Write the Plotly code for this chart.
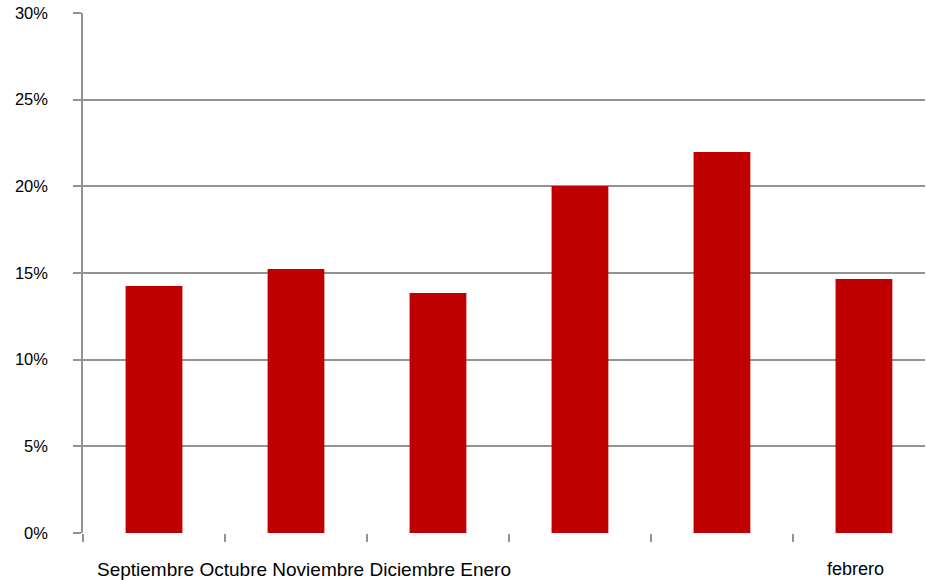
import plotly.graph_objects as go

months = ["Septiembre", "Octubre", "Noviembre", "Diciembre", "Enero", "febrero"]
values = [0.1425, 0.1523, 0.1385, 0.2002, 0.2198, 0.1465]
label_left = "Septiembre Octubre Noviembre Diciembre Enero"
label_right = "febrero"
y_ticks = [0, 0.05, 0.10, 0.15, 0.20, 0.25, 0.30]
y_ticktext = ["0%", "5%", "10%", "15%", "20%", "25%", "30%"]

W, H = 926, 580
L, R, T, B = 83, 1, 13, 47
pw = W - L - R
ph = H - T - B

fig = go.Figure()
fig.add_trace(go.Bar(x=months, y=values, width=0.4, marker=dict(color="#C00000", line=dict(width=0))))

gray = "#939393"
fig.update_layout(
    width=W, height=H,
    margin=dict(l=L, r=R, t=T, b=B),
    plot_bgcolor="white", paper_bgcolor="white",
    showlegend=False,
    font=dict(family="Liberation Sans, Arial, sans-serif", size=17, color="#000000"),
    xaxis=dict(
        type="category", range=[-0.5, 5.43], tickson="boundaries",
        ticks="outside", ticklen=8, tickcolor=gray, tickwidth=1.5,
        showticklabels=False, showgrid=False, zeroline=False,
        showline=False,
    ),
    yaxis=dict(
        range=[0, 0.30], tickvals=y_ticks, ticktext=y_ticktext,
        ticks="outside", ticklen=8, tickcolor=gray, tickwidth=1.5,
        showgrid=True, gridcolor=gray, gridwidth=1.5,
        showline=True, linecolor=gray, linewidth=1.5,
        zeroline=False, ticklabelstandoff=22,
        tickfont=dict(size=16.5),
    ),
    bargap=0.6,
)

fig.add_annotation(text=label_left, xref="paper", yref="paper",
                   x=(95 - L) / pw, y=(533 - 569) / ph, xanchor="left", yanchor="middle",
                   showarrow=False, font=dict(size=19))
fig.add_annotation(text=label_right, xref="paper", yref="paper",
                   x=(855 - L) / pw, y=(533 - 569) / ph, xanchor="center", yanchor="middle",
                   showarrow=False, font=dict(size=18))

fig.write_html("out.html")
